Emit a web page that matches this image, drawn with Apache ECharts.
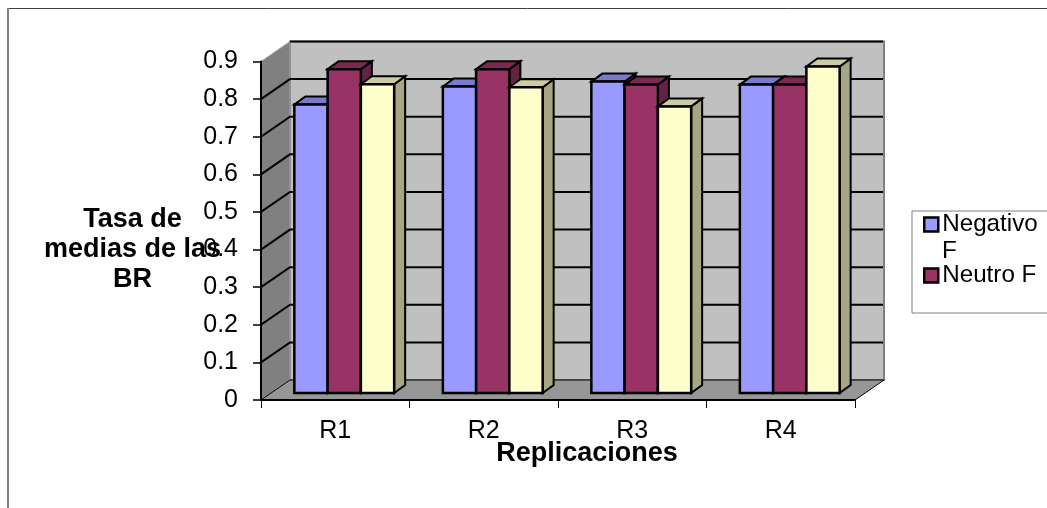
<!DOCTYPE html>
<html>
<head>
<meta charset="utf-8">
<style>
    html, body { margin: 0; padding: 0; background: #fff; overflow: hidden; }
    #chart { width: 1047px; height: 508px; }
</style>
<script src="https://cdn.jsdelivr.net/npm/echarts@6/dist/echarts.min.js"></script>
</head>
<body>
<div id="chart"></div>
<script>
    // values
    const categories = ['R1', 'R2', 'R3', 'R4'];
    const negativo = [0.767, 0.815, 0.828, 0.82];
    const neutro = [0.861, 0.861, 0.82, 0.82];
    const positivo = [0.821, 0.813, 0.762, 0.868];
    const yTicks = [0, 0.1, 0.2, 0.3, 0.4, 0.5, 0.6, 0.7, 0.8, 0.9];

    const FONT = '"Liberation Sans", Arial, sans-serif';
    // fake 3d: how far the back wall and the bars sit from the axis plane
    const WALL_DX = 29, WALL_DY = 20;
    const BAR_DX = 9, BAR_DY = 7;
    const SIDE_DX = 11, SIDE_DY = 8;
    const BAR_RATIO = 0.224;

    function poly(points, fill, stroke, lineWidth) {
        return {
            type: 'polygon',
            shape: { points: points },
            style: { fill: fill, stroke: stroke, lineWidth: lineWidth }
        };
    }

    function renderWalls(params, api) {
        const cs = params.coordSys;
        const x0 = cs.x, x1 = cs.x + cs.width;
        const yb = api.coord([0, yTicks[0]])[1];
        const yt = api.coord([0, yTicks[yTicks.length - 1]])[1];
        return {
            type: 'group',
            children: [
                poly([[x0 + WALL_DX, yt - WALL_DY], [x1 + WALL_DX, yt - WALL_DY], [x1 + WALL_DX, yb - WALL_DY], [x0 + WALL_DX, yb - WALL_DY]], '#c0c0c0', '#808080', 2),
                poly([[x0, yt], [x0 + WALL_DX, yt - WALL_DY], [x0 + WALL_DX, yb - WALL_DY], [x0, yb]], '#808080', '#a0a0a0', 1),
                poly([[x0, yb], [x1, yb], [x1 + WALL_DX, yb - WALL_DY], [x0 + WALL_DX, yb - WALL_DY]], '#969696', '#000', 1)
            ]
        };
    }

    function renderGridline(params, api) {
        const cs = params.coordSys;
        const x0 = cs.x, x1 = cs.x + cs.width;
        const tick = api.value(1);
        const y = api.coord([0, tick])[1];
        if (tick === yTicks[0]) return { type: 'group', children: [] };
        // the top line only runs along the back wall
        const points = tick === yTicks[yTicks.length - 1]
            ? [[x0 + WALL_DX, y - WALL_DY], [x1 + WALL_DX - 1, y - WALL_DY]]
            : [[x0, y], [x0 + WALL_DX, y - WALL_DY], [x1 + WALL_DX - 1, y - WALL_DY]];
        return {
            type: 'polyline',
            shape: { points: points },
            style: { fill: null, stroke: '#000', lineWidth: 2 }
        };
    }

    function barRenderer(slot, front, top, side) {
        return function (params, api) {
            const base = api.coord([api.value(0), 0]);
            const head = api.coord([api.value(0), api.value(1)]);
            const w = api.size([1, 0])[0] * BAR_RATIO;
            const l = base[0] + BAR_DX + (slot - 1.5) * w;
            const r = l + w;
            const yb = base[1] - BAR_DY;
            const yt = head[1] - BAR_DY;
            return {
                type: 'group',
                children: [
                    poly([[r, yt], [r + SIDE_DX, yt - SIDE_DY], [r + SIDE_DX, yb - SIDE_DY], [r, yb]], side, '#000', 2),
                    poly([[l, yt], [l + SIDE_DX, yt - SIDE_DY], [r + SIDE_DX, yt - SIDE_DY], [r, yt]], top, '#000', 2),
                    poly([[l, yt], [r, yt], [r, yb], [l, yb]], front, '#000', 2.5)
                ]
            };
        };
    }

    function barSeries(name, values, slot, front, top, side) {
        return {
            name: name,
            type: 'custom',
            itemStyle: { color: front },
            renderItem: barRenderer(slot, front, top, side),
            encode: { x: 0, y: 1 },
            data: values.map((v, i) => [i, v]),
            z: 5
        };
    }

    const chart = echarts.init(document.getElementById('chart'));
    chart.setOption({
        animation: false,
        textStyle: { fontFamily: FONT, color: '#000' },
        grid: { left: 261, right: 192, top: 61.5, bottom: 108 },
        title: [
            {
                text: 'Tasa de\nmedias de las\nBR',
                left: 132.5, top: 205, textAlign: 'center', padding: 0,
                textStyle: { fontFamily: FONT, fontSize: 27, fontWeight: 'bold', color: '#000', lineHeight: 30 }
            },
            {
                text: 'Replicaciones',
                left: 587, top: 440, textAlign: 'center', padding: 0,
                textStyle: { fontFamily: FONT, fontSize: 27, fontWeight: 'bold', color: '#000' }
            }
        ],
        legend: {
            left: 923, top: 211, orient: 'vertical', padding: 0,
            itemWidth: 14, itemHeight: 14, itemGap: 24,
            selectedMode: false,
            itemStyle: { borderColor: '#000', borderWidth: 2.5 },
            data: [
                { name: 'Negativo F', icon: 'rect' },
                { name: 'Neutro F', icon: 'rect' }
            ],
            formatter: name => name === 'Negativo F' ? 'Negativo' : name,
            textStyle: { fontFamily: FONT, fontSize: 24.2, color: '#000', lineHeight: 27, padding: [0, 0, 0, -1] }
        },
        xAxis: {
            type: 'category',
            data: categories,
            axisLine: { lineStyle: { color: '#000', width: 2 } },
            axisTick: { show: true, length: 8, lineStyle: { color: '#000', width: 1 } },
            axisLabel: { fontFamily: FONT, fontSize: 25, color: '#000', margin: 19 },
            z: 3
        },
        yAxis: {
            type: 'value',
            min: 0, max: 0.9, interval: 0.1,
            axisLine: { show: true, lineStyle: { color: '#000', width: 2 } },
            axisTick: { show: true, length: 8, lineStyle: { color: '#000', width: 1.5 } },
            axisLabel: { fontFamily: FONT, fontSize: 25, color: '#000', margin: 23, padding: [6, 0, 0, 0] },
            splitLine: { show: false },
            z: 3
        },
        graphic: [
            { type: 'line', z: 0, shape: { x1: 8, y1: 8.5, x2: 1047, y2: 8.5 }, style: { stroke: '#404040', lineWidth: 1 } },
            { type: 'line', z: 0, shape: { x1: 8, y1: 8, x2: 8, y2: 508 }, style: { stroke: '#808080', lineWidth: 2 } },
            { type: 'rect', z: 0, shape: { x: 912, y: 211, width: 200, height: 102 }, style: { fill: '#fff', stroke: '#808080', lineWidth: 1 } },
            { type: 'text', z: 1, left: 942, top: 239, style: { text: 'F', font: '24.2px ' + FONT, fill: '#000' } }
        ],
        series: [
            { type: 'custom', renderItem: renderWalls, data: [[0, 0]], encode: { x: 0, y: 1 }, silent: true, z: 1 },
            { type: 'custom', renderItem: renderGridline, data: yTicks.map(t => [0, t]), encode: { x: 0, y: 1 }, silent: true, z: 2 },
            barSeries('Negativo F', negativo, 0, '#9999ff', '#7a7acc', '#6666aa'),
            barSeries('Neutro F', neutro, 1, '#993366', '#7a2952', '#662244'),
            barSeries('Positivo F', positivo, 2, '#ffffcc', '#cccca3', '#a6a684')
        ]
    });
</script>
</body>
</html>
